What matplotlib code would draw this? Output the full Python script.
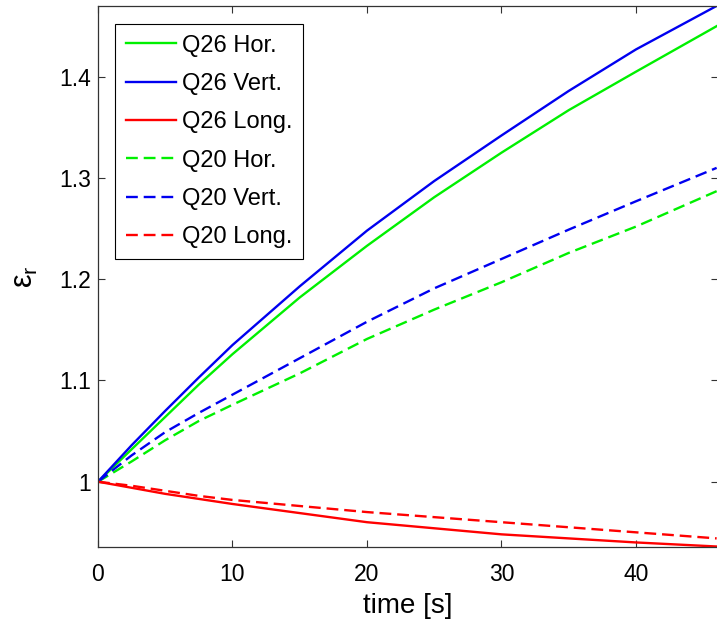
import numpy as np
import matplotlib
matplotlib.use('Agg')
import matplotlib.pyplot as plt

plt.rcParams['font.family'] = ['Liberation Sans', 'DejaVu Sans']
plt.rcParams['mathtext.fontset'] = 'custom'
plt.rcParams['mathtext.rm'] = 'Liberation Sans'
plt.rcParams['mathtext.it'] = 'Liberation Sans'

# time samples [s]
t = [0, 2.5, 5, 7.5, 10, 15, 20, 25, 30, 35, 40, 46]

# relative permittivity for each direction
q26_hor = [1.000, 1.032, 1.064, 1.096, 1.126, 1.182, 1.233, 1.281, 1.325, 1.367, 1.405, 1.450]
q26_vert = [1.000, 1.036, 1.070, 1.103, 1.135, 1.193, 1.248, 1.297, 1.342, 1.386, 1.427, 1.470]
q26_long = [1.000, 0.994, 0.988, 0.983, 0.978, 0.969, 0.960, 0.954, 0.948, 0.944, 0.940, 0.936]
q20_hor = [1.000, 1.020, 1.041, 1.060, 1.076, 1.107, 1.141, 1.170, 1.197, 1.226, 1.252, 1.287]
q20_vert = [1.000, 1.026, 1.049, 1.068, 1.086, 1.122, 1.158, 1.191, 1.220, 1.249, 1.277, 1.310]
q20_long = [1.000, 0.996, 0.991, 0.986, 0.982, 0.976, 0.970, 0.965, 0.960, 0.955, 0.950, 0.944]

fig = plt.figure(figsize=(7.17, 6.21), dpi=100)
ax = fig.add_axes([98/717, 1 - 546.7/621, 620/717, 540.7/621])

lw = 1.7
green, blue, red = '#00f000', '#0000f0', '#ff0000'
ax.plot(t, q26_hor, color=green, lw=lw, label='Q26 Hor.')
ax.plot(t, q26_vert, color=blue, lw=lw, label='Q26 Vert.')
ax.plot(t, q26_long, color=red, lw=lw, label='Q26 Long.')
ax.plot(t, q20_hor, color=green, lw=lw, dashes=(5, 2.5), label='Q20 Hor.')
ax.plot(t, q20_vert, color=blue, lw=lw, dashes=(5, 2.5), label='Q20 Vert.')
ax.plot(t, q20_long, color=red, lw=lw, dashes=(5, 2.5), label='Q20 Long.')

ax.set_xlim(0, 46.1)
ax.set_ylim(0.9358, 1.4699)
ax.set_xticks([0, 10, 20, 30, 40])
ax.set_yticks([1, 1.1, 1.2, 1.3, 1.4])
ax.set_yticklabels(['1', '1.1', '1.2', '1.3', '1.4'])
ax.tick_params(direction='in', length=5, width=0.8, labelsize=16.5,
               top=True, right=True, color='#333333')
ax.tick_params(axis='y', pad=5)
ax.tick_params(axis='x', pad=12)
for s in ax.spines.values():
    s.set_color('#333333')
    s.set_linewidth(0.9)

ax.set_xlabel('time [s]', fontsize=20, labelpad=5)
ax.set_ylabel(r'$\epsilon_r$', fontsize=22, labelpad=14, rotation=90)

leg = ax.legend(loc='upper left', bbox_to_anchor=(0.0274, 0.9667), borderaxespad=0,
                fancybox=False, edgecolor='black', framealpha=1, fontsize=17,
                handlelength=2.15, handletextpad=0.25, labelspacing=0.69, borderpad=0.45)
leg.get_frame().set_linewidth(0.8)

fig.savefig('out.png', dpi=100)
